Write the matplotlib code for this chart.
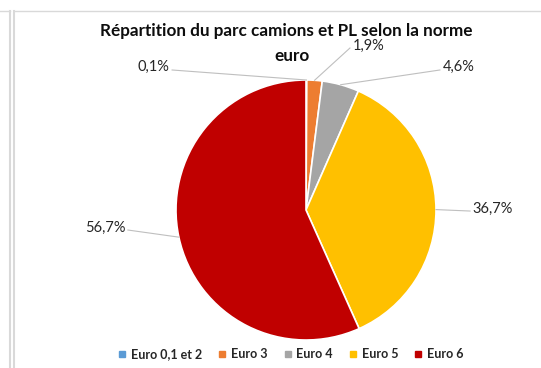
import numpy as np
import matplotlib.pyplot as plt
from matplotlib.lines import Line2D

plt.rcParams['font.family'] = ['Lato', 'DejaVu Sans']

# Parc camions et PL par norme euro (%)
categories = ["Euro 0,1 et 2", "Euro 3", "Euro 4", "Euro 5", "Euro 6"]
shares = [0.1, 1.9, 4.6, 36.7, 56.7]
labels = ["0,1%", "1,9%", "4,6%", "36,7%", "56,7%"]
colors = ["#5B9BD5", "#ED7D31", "#A5A5A5", "#FFC000", "#C00000"]

W, H = 541, 368
fig = plt.figure(figsize=(W / 100, H / 100), dpi=100)

# pie centre and radius in pixels
cx, cy, r = 306, 210, 130
ax = fig.add_axes([(cx - r) / W, (H - cy - r) / H, 2 * r / W, 2 * r / H])
wedges, _ = ax.pie(shares, colors=colors, startangle=90, counterclock=False,
                   wedgeprops=dict(edgecolor="white", linewidth=1.2))
ax.set_xlim(-1, 1)
ax.set_ylim(-1, 1)
ax.set_clip_on(False)

# label anchors (where the leader line ends) and text alignment
anchors = [(-1.03, 1.077, "right"), (0.338, 1.246, "left"), (1.03, 1.077, "left"),
           (1.262, -0.008, "left"), (-1.37, -0.154, "right")]
for w, lab, (ax_x, ax_y, ha) in zip(wedges, labels, anchors):
    ang = np.deg2rad((w.theta1 + w.theta2) / 2)
    px, py = np.cos(ang), np.sin(ang)
    ax.plot([px, ax_x], [py, ax_y], color="#BFBFBF", lw=0.8, clip_on=False)
    dx = 0.02 if ha == "left" else -0.02
    ax.text(ax_x + dx, ax_y + 0.02, lab, ha=ha, va="center", fontsize=10.5,
            color="#262626")

fig.text(286 / W, 1 - 31 / H, "Répartition du parc camions et PL selon la norme",
         ha="center", va="center", fontsize=12.3, fontweight="bold", color="#0d0d0d")
fig.text(292 / W, 1 - 56 / H, "euro", ha="center", va="center",
         fontsize=12.3, fontweight="bold", color="#0d0d0d")

handles = [Line2D([], [], marker="s", linestyle="none", markersize=5,
                  markerfacecolor=c, markeredgecolor=c) for c in colors]
fig.legend(handles, categories, loc="center", bbox_to_anchor=(291 / W, 1 - 354 / H),
           ncol=5, frameon=False, handlelength=0.6, handletextpad=0.4,
           columnspacing=1.3, prop=dict(size=9, weight="bold"), labelcolor="#262626")

# panel borders
bc = "#D9D9D9"
fig.add_artist(Line2D([0, 10 / W], [1 - 11 / H, 1 - 11 / H], color=bc, lw=1))
fig.add_artist(Line2D([9.5 / W, 9.5 / W], [0, 1 - 11 / H], color=bc, lw=1.5))
fig.add_artist(Line2D([13.5 / W, 1], [1 - 11 / H, 1 - 11 / H], color=bc, lw=1))
fig.add_artist(Line2D([13.5 / W, 13.5 / W], [0, 1 - 11 / H], color=bc, lw=1.5))

fig.savefig("out.png", dpi=100)
